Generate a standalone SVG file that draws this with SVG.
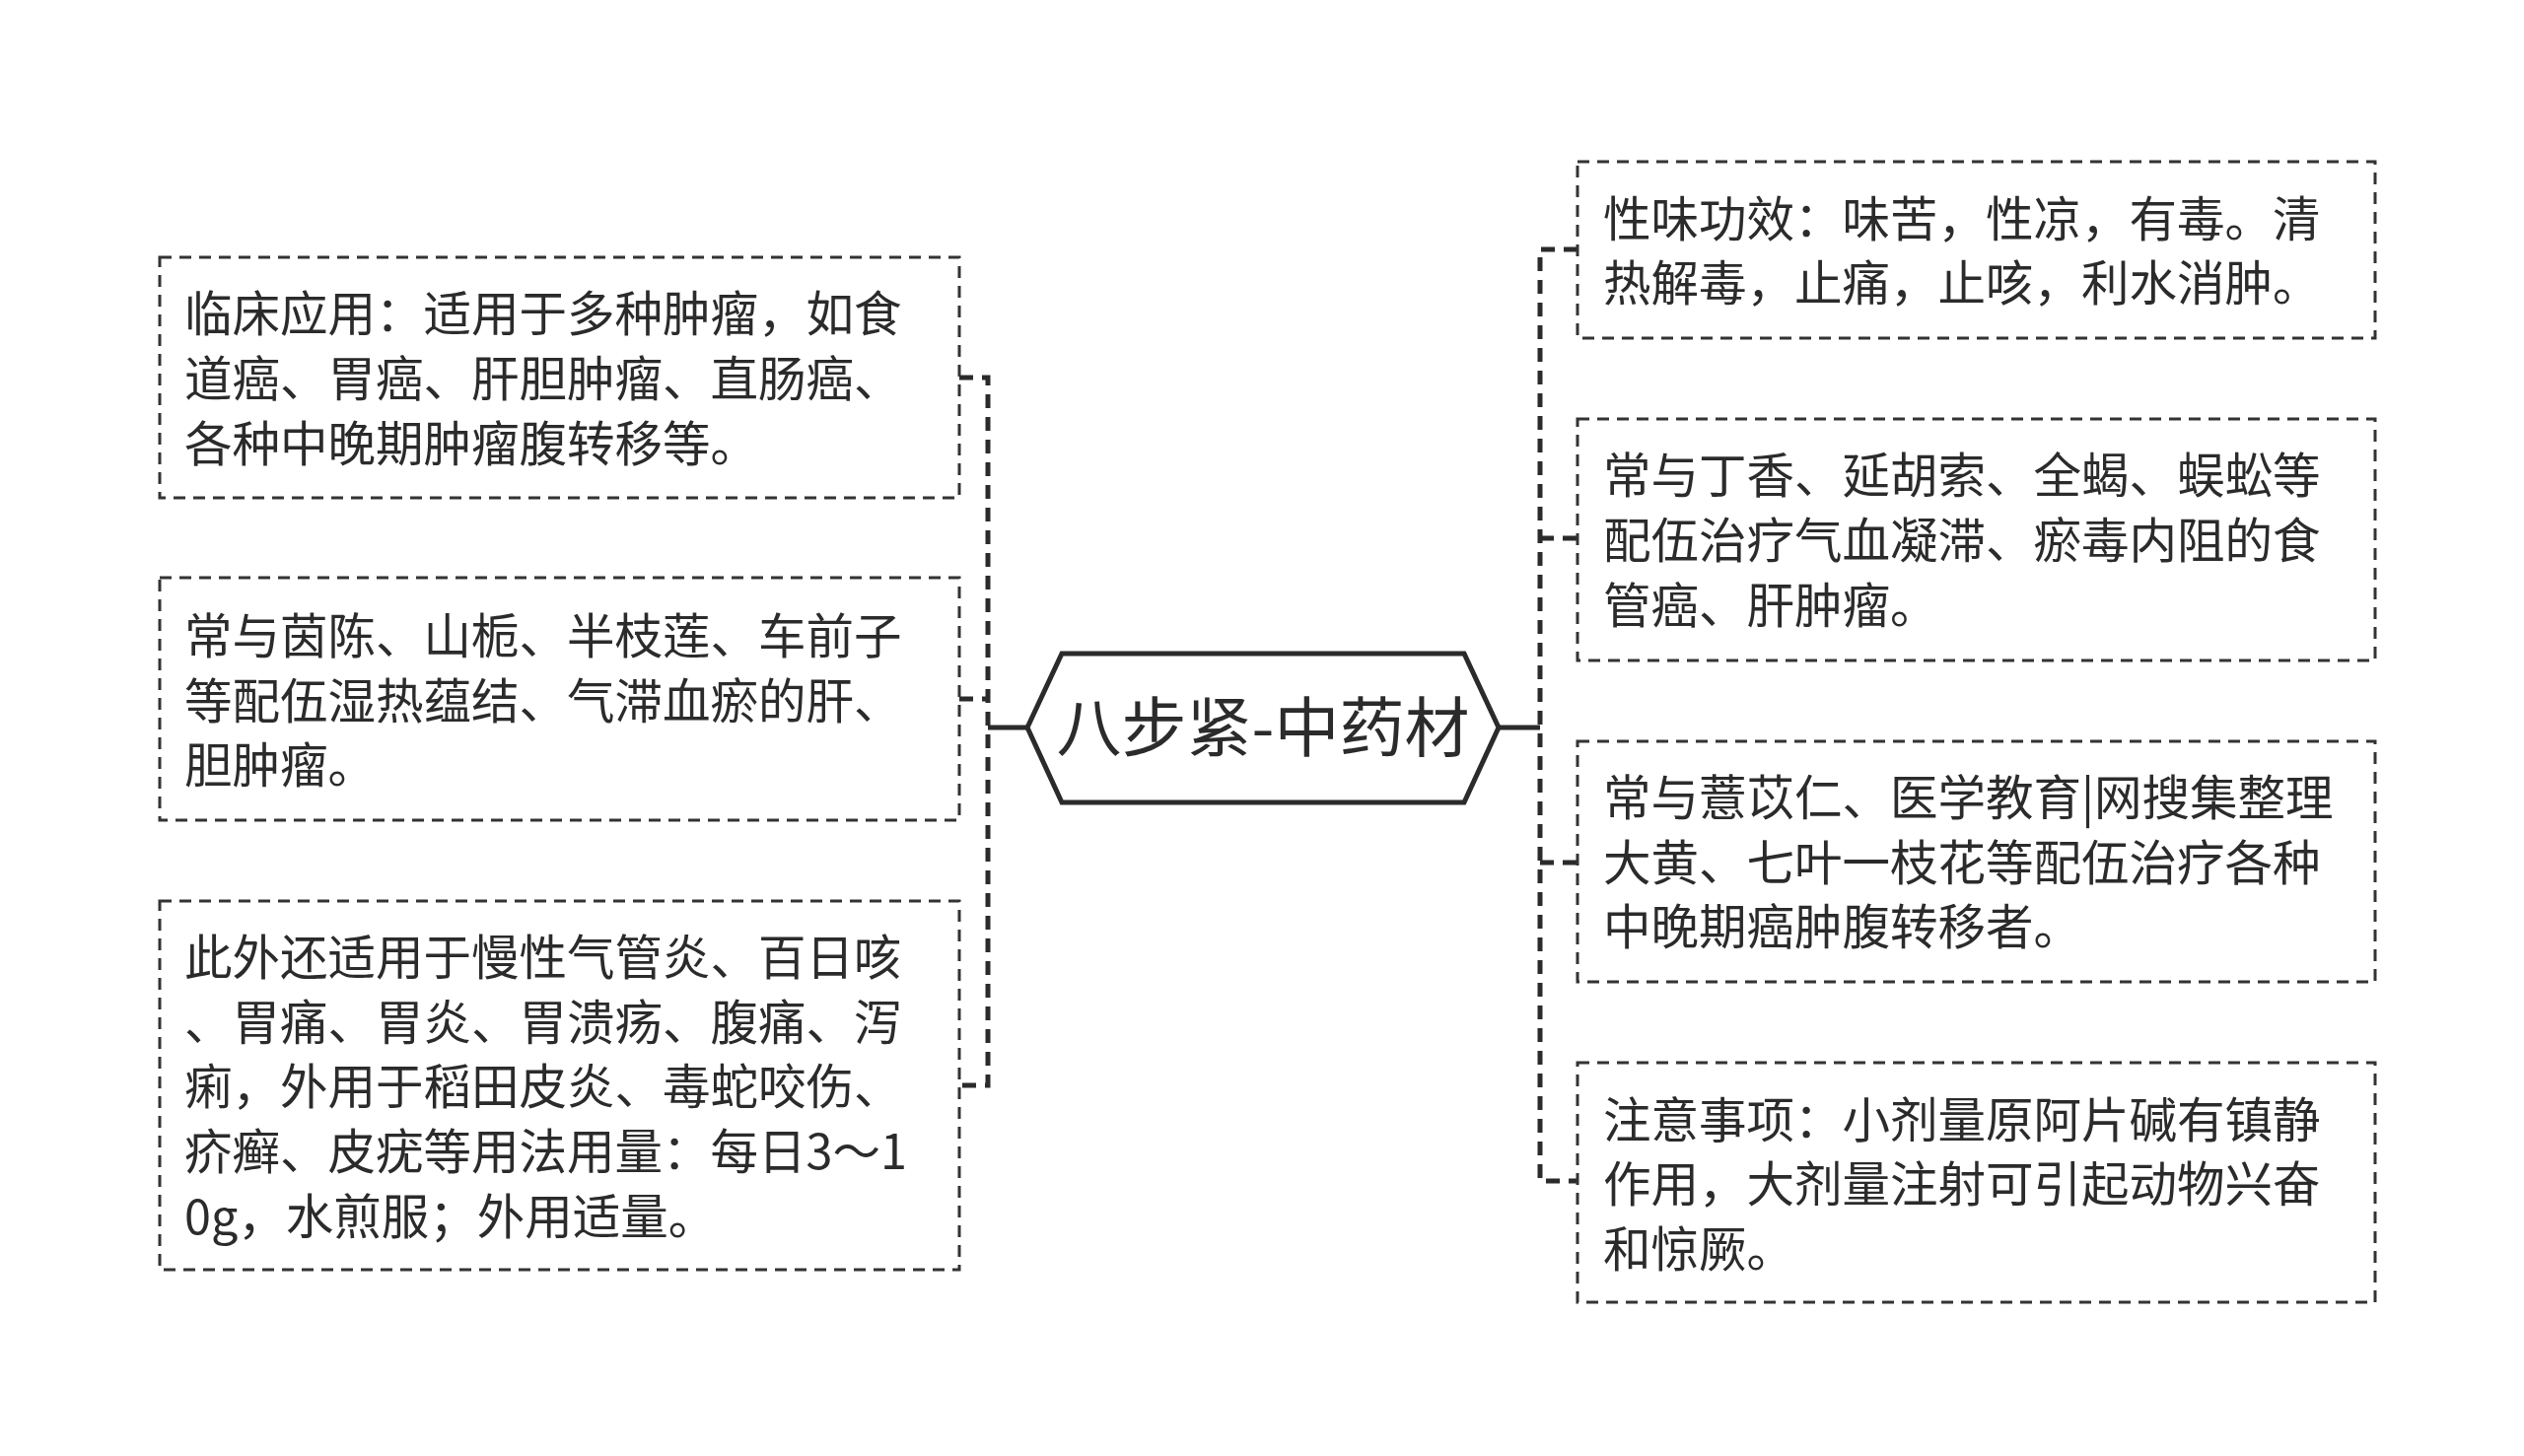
<svg xmlns="http://www.w3.org/2000/svg" width="2560" height="1477" viewBox="0 0 2560 1477">
<style>
.box{fill:#fff;stroke:#333;stroke-width:3;stroke-dasharray:12 8}
.t{font-family:"Noto Sans CJK SC","Noto Sans",sans-serif;font-size:48.5px;fill:#2b2b2b}
.c{fill:none;stroke:#2b2b2b;stroke-width:5;stroke-dasharray:14 9}
.s{fill:none;stroke:#2b2b2b;stroke-width:5}
</style>
<rect width="2560" height="1477" fill="#fff"/>
<g id="connectors">
<path class="c" d="M973 383H1002V1101H973M973 709H1002"/>
<path class="s" d="M1002 738H1042"/>
<path class="c" d="M1600 253H1562V1198H1600M1562 546H1600M1562 875H1600"/>
<path class="s" d="M1520 738H1562"/>
</g>
<g id="center">
<polygon points="1042,738 1077,663 1485,663 1520,738 1485,814 1077,814" fill="#fff" stroke="#2b2b2b" stroke-width="5"/>
<text x="1281" y="762" text-anchor="middle" font-family="Noto Sans CJK SC,sans-serif" font-size="66" fill="#2b2b2b">八步紧-中药材</text>
</g>
<g id="l1"><rect class="box" x="162" y="261" width="811" height="244"/>
<text class="t" x="187" y="336">临床应用：适用于多种肿瘤，如食</text><text class="t" x="187" y="402">道癌、胃癌、肝胆肿瘤、直肠癌、</text><text class="t" x="187" y="468">各种中晚期肿瘤腹转移等。</text></g>
<g id="l2"><rect class="box" x="162" y="586" width="811" height="246"/>
<text class="t" x="187" y="663">常与茵陈、山栀、半枝莲、车前子</text><text class="t" x="187" y="729">等配伍湿热蕴结、气滞血瘀的肝、</text><text class="t" x="187" y="794">胆肿瘤。</text></g>
<g id="l3"><rect class="box" x="162" y="914" width="811" height="374"/>
<text class="t" x="187" y="989">此外还适用于慢性气管炎、百日咳</text><text class="t" x="187" y="1055">、胃痛、胃炎、胃溃疡、腹痛、泻</text><text class="t" x="187" y="1120">痢，外用于稻田皮炎、毒蛇咬伤、</text><text class="t" x="187" y="1186">疥癣、皮疣等用法用量：每日3～1</text><text class="t" x="187" y="1252">0g，水煎服；外用适量。</text></g>
<g id="r1"><rect class="box" x="1600" y="164" width="809" height="179"/>
<text class="t" x="1626" y="240">性味功效：味苦，性凉，有毒。清</text><text class="t" x="1626" y="305">热解毒，止痛，止咳，利水消肿。</text></g>
<g id="r2"><rect class="box" x="1600" y="425" width="809" height="245"/>
<text class="t" x="1626" y="500">常与丁香、延胡索、全蝎、蜈蚣等</text><text class="t" x="1626" y="566">配伍治疗气血凝滞、瘀毒内阻的食</text><text class="t" x="1626" y="632">管癌、肝肿瘤。</text></g>
<g id="r3"><rect class="box" x="1600" y="752" width="809" height="244"/>
<text class="t" x="1626" y="827">常与薏苡仁、医学教育|网搜集整理</text><text class="t" x="1626" y="893">大黄、七叶一枝花等配伍治疗各种</text><text class="t" x="1626" y="958">中晚期癌肿腹转移者。</text></g>
<g id="r4"><rect class="box" x="1600" y="1078" width="809" height="243"/>
<text class="t" x="1626" y="1154">注意事项：小剂量原阿片碱有镇静</text><text class="t" x="1626" y="1219">作用，大剂量注射可引起动物兴奋</text><text class="t" x="1626" y="1285">和惊厥。</text></g>
</svg>
